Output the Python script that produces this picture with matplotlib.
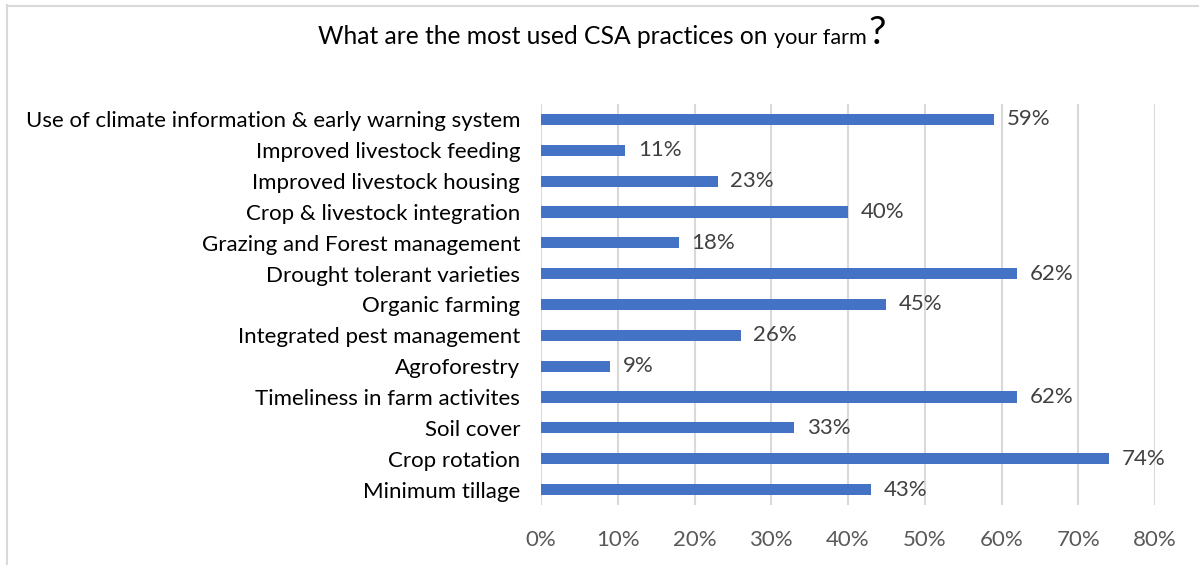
import matplotlib
matplotlib.use("Agg")
import matplotlib.pyplot as plt
from matplotlib.ticker import FuncFormatter
from matplotlib.lines import Line2D

categories = [
    "Use of climate information & early warning system",
    "Improved livestock feeding",
    "Improved livestock housing",
    "Crop & livestock integration",
    "Grazing and Forest management",
    "Drought tolerant varieties",
    "Organic farming",
    "Integrated pest management",
    "Agroforestry",
    "Timeliness in farm activites",
    "Soil cover",
    "Crop rotation",
    "Minimum tillage",
]
values = [59, 11, 23, 40, 18, 62, 45, 26, 9, 62, 33, 74, 43]
xticks = [0, 10, 20, 30, 40, 50, 60, 70, 80]

FONT = "Lato"
LABEL_SIZE = 16
W, H = 1199, 565
fig = plt.figure(figsize=(W / 100, H / 100), dpi=100)
fig.patch.set_facecolor("white")

# outer frame (top and left edges)
fig.add_artist(Line2D([6.5 / W, 6.5 / W], [0, 1 - 5 / H], transform=fig.transFigure,
                      color="#D9D9D9", lw=1.5))
fig.add_artist(Line2D([6.5 / W, 1], [1 - 5.5 / H, 1 - 5.5 / H], transform=fig.transFigure,
                      color="#D9D9D9", lw=1.5))

left, right = 541 / W, 1155 / W
top, bottom = 104 / H, 505 / H
ax = fig.add_axes([left, 1 - bottom, right - left, bottom - top])

n = len(categories)
ypos = list(range(n))
ax.barh(ypos, values, height=0.36, color="#4472C4", zorder=3)
ax.set_ylim(n - 0.5, -0.5)
ax.set_xlim(0, 80)
ax.set_xticks(xticks)
ax.xaxis.set_major_formatter(FuncFormatter(lambda v, p: f"{int(v)}%"))
ax.set_yticks(ypos)
ax.set_yticklabels(categories, fontsize=LABEL_SIZE, color="#000000", family=FONT)
for lab in ax.get_xticklabels():
    lab.set_fontsize(LABEL_SIZE)
    lab.set_color("#595959")
    lab.set_family(FONT)
ax.tick_params(axis="both", length=0)
ax.tick_params(axis="y", pad=15)
ax.tick_params(axis="x", pad=18)
ax.grid(axis="x", color="#D9D9D9", lw=1.5, zorder=0)
for s in ax.spines.values():
    s.set_visible(False)

for y, v in zip(ypos, values):
    ax.annotate(f"{v}%", (v, y), xytext=(9, 0), textcoords="offset points",
                va="center", ha="left", fontsize=LABEL_SIZE, color="#404040", family=FONT)

# title with mixed font sizes
renderer = fig.canvas.get_renderer()
pieces = [("What are the most used CSA practices on ", 17.7),
          ("your farm", 15.6),
          ("?", 28)]
x_px = 318
base_y = 1 - 43.5 / H
for txt, size in pieces:
    t = fig.text(x_px / W, base_y, txt, fontsize=size, family=FONT,
                 color="#000000", va="baseline", ha="left")
    bb = t.get_window_extent(renderer)
    x_px += bb.width + (2 if txt.endswith("m") else 0)

fig.savefig("out.png", dpi=100)
